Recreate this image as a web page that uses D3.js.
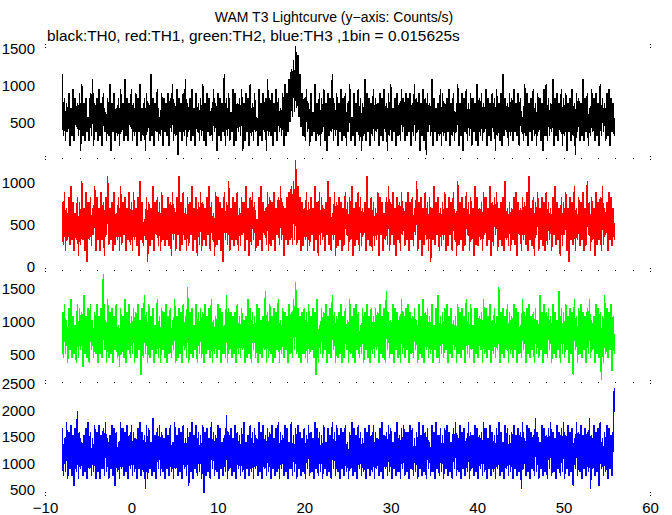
<!DOCTYPE html>
<html><head><meta charset="utf-8">
<script src="https://cdn.jsdelivr.net/npm/d3@7"></script>
<style>html,body{margin:0;padding:0;background:#fff;} svg{display:block;font-family:"Liberation Sans",Arial,Helvetica,sans-serif;}</style>
</head><body><svg id="c" width="672" height="515"></svg>
<script>
const title = "WAM T3 Lightcurve (y\u2212axis: Counts/s)";
const subtitle = "black:TH0, red:TH1, green:TH2, blue:TH3 ,1bin = 0.015625s";
const binWidth = 0.015625;          // s per bin
const sampleStart = -8, sampleStep = 0.125; // time of first sampled bin, spacing of samples (s)

const th0Counts = [
18,5,13,4,12,6,14,3,11,5,15,4,13,7,12,5,14,2,16,5,12,4,13,6,9,4,14,5,17,3,12,6,
13,4,15,5,12,3,14,6,10,4,13,5,16,2,12,6,14,4,11,5,13,3,15,6,12,4,17,5,13,4,12,7,
15,4,12,5,14,3,13,6,16,4,11,5,13,2,14,6,12,4,18,5,13,3,12,6,15,4,9,5,14,3,13,6,
12,5,14,3,13,6,16,4,12,5,15,1,13,6,12,4,14,5,17,3,12,6,13,4,15,5,11,3,14,6,12,4,
13,5,16,4,12,3,14,6,13,5,11,4,15,6,12,2,14,5,13,4,12,6,18,3,13,5,14,4,10,6,15,3,
14,4,12,6,13,5,15,2,12,4,14,6,13,3,16,5,12,4,14,6,9,3,15,5,12,4,14,6,13,2,17,5,
13,5,14,3,12,6,15,4,13,6,11,5,14,3,16,5,14,6,17,8,19,9,21,10,24,11,22,9,18,7,14,5,
13,4,15,6,12,3,14,5,10,6,16,4,12,5,14,3,13,6,15,4,12,2,14,5,13,6,18,4,12,5,14,3,
12,6,15,4,13,5,14,3,12,6,16,4,9,5,14,3,12,6,15,4,13,2,12,5,17,4,14,6,13,3,12,5,
15,4,13,6,12,3,14,5,13,4,15,6,12,2,14,5,16,4,11,6,13,3,14,5,12,4,15,6,13,4,14,5,
13,6,14,3,12,5,16,4,13,6,14,2,12,5,15,4,13,1,14,6,12,5,17,3,13,6,11,4,12,5,15,3,
14,5,12,4,13,6,15,3,12,5,14,4,10,6,16,3,12,5,14,2,13,6,15,4,12,5,14,3,13,6,12,4,
16,3,13,5,14,4,12,6,15,3,13,5,12,4,14,6,13,2,15,5,12,4,14,3,18,5,13,6,12,3,14,5,
13,4,15,6,12,5,14,3,13,6,9,4,16,5,14,3,12,6,13,4,15,5,12,3,14,6,13,4,12,2,15,5,
16,4,13,5,12,6,17,3,13,5,14,4,12,6,15,3,13,5,14,2,12,6,13,4,15,5,12,1,14,6,13,4,
12,5,17,4,13,6,14,3,11,5,15,6,13,4,14,5,12,3,16,5,13,6,12,4,14,5,15,3,13,6,12,5
];
const th1Counts = [
12,4,14,3,11,5,13,4,15,5,12,3,10,5,13,2,12,4,16,5,11,3,14,1,12,5,13,4,11,6,15,3,
13,5,11,3,14,5,12,2,13,6,17,4,11,5,12,3,14,4,10,5,13,3,15,4,12,6,13,3,11,5,14,4,
12,3,14,5,11,4,13,2,16,5,12,4,9,5,13,1,12,4,11,5,15,3,12,6,13,4,12,3,14,5,11,4,
11,5,13,4,12,2,14,5,11,3,13,6,17,3,12,4,14,5,11,3,13,4,12,6,15,3,11,5,13,2,12,4,
14,3,12,5,11,4,13,6,15,3,12,5,10,2,14,4,13,5,12,3,11,1,14,5,12,4,16,3,11,5,13,4,
12,5,14,3,11,4,13,6,12,3,15,5,11,2,13,4,14,5,12,3,9,4,13,5,15,3,12,6,11,4,14,3,
13,4,12,5,14,3,11,6,13,4,15,5,12,2,11,5,13,4,14,5,15,4,16,5,20,4,15,5,13,3,12,4,
11,5,14,3,12,4,13,6,11,3,15,5,12,2,14,4,13,5,11,3,12,6,16,4,13,3,10,5,14,2,12,4,
13,5,12,3,11,4,14,6,12,3,13,5,15,2,11,4,12,5,14,3,13,4,11,6,12,3,17,5,11,4,13,3,
12,4,11,5,14,2,13,6,12,3,10,5,13,4,15,3,12,6,14,4,11,2,13,5,12,3,14,6,11,4,12,5,
14,3,12,5,13,4,11,6,16,3,12,5,13,2,11,4,14,5,12,3,13,1,11,5,15,4,12,6,13,3,11,4,
12,5,14,3,11,4,13,6,12,3,14,5,10,2,16,4,12,5,13,3,11,4,14,6,12,3,13,5,11,2,15,4,
13,4,11,5,12,3,14,6,13,4,11,5,15,2,12,4,13,6,14,3,11,5,12,4,13,3,16,5,11,4,12,3,
11,5,13,4,14,2,12,6,11,3,13,5,12,4,14,3,17,5,11,4,13,2,12,6,14,3,11,5,13,4,12,3,
14,4,12,5,11,3,13,6,15,4,12,5,11,2,13,4,12,6,14,3,11,1,13,5,12,4,15,3,11,5,13,4,
12,5,14,3,11,4,16,6,12,3,13,5,11,2,14,4,12,5,13,3,15,4,11,6,12,3,14,5,13,4,11,5
];
const th2Counts = [
18,7,20,8,16,6,19,9,21,7,17,8,15,6,20,7,19,9,18,5,22,8,17,7,19,6,20,9,16,7,18,8,
20,6,17,8,19,7,27,9,16,6,21,7,18,8,19,6,17,9,20,7,15,5,19,8,17,7,21,6,18,9,20,7,
17,8,19,6,18,7,20,9,16,3,19,7,22,8,18,6,20,7,17,9,19,6,15,8,21,7,17,6,19,9,18,7,
20,6,17,8,19,7,16,9,21,6,17,7,19,8,18,6,20,9,17,7,24,6,18,8,19,7,15,9,20,6,18,8,
19,7,18,6,20,8,17,9,19,7,21,6,16,8,17,7,20,9,19,6,18,8,15,7,22,6,19,9,18,7,17,8,
18,6,20,8,17,7,19,9,16,6,17,7,21,8,19,6,18,9,17,7,20,6,19,8,16,7,17,9,23,6,18,7,
20,8,17,6,19,7,18,9,21,6,16,8,19,7,18,9,17,6,20,8,18,7,21,9,25,8,19,7,17,6,18,8,
19,7,18,6,20,8,17,9,19,7,18,3,21,6,15,8,19,7,18,9,20,6,17,8,19,7,22,9,18,6,17,7,
18,8,20,6,17,7,19,9,16,6,21,8,17,7,19,6,20,9,18,7,15,8,19,6,18,9,20,7,17,6,19,8,
17,7,19,9,18,6,20,8,17,7,19,6,23,9,18,7,16,8,20,6,19,9,18,7,17,6,21,8,18,7,19,9,
20,6,18,8,17,7,19,9,16,6,20,8,17,7,21,6,18,9,19,7,17,8,20,6,15,9,19,7,22,6,17,8,
18,7,19,9,20,6,17,8,19,7,16,9,17,6,20,8,18,7,19,9,17,6,21,8,18,7,20,9,15,6,19,8,
19,7,17,9,18,6,21,8,19,7,17,9,20,6,16,8,19,7,17,9,24,6,18,8,19,7,17,9,20,6,18,8,
17,7,20,9,19,6,18,8,15,7,21,9,18,6,19,8,20,7,17,9,18,6,19,8,16,7,22,9,18,6,20,8,
18,7,19,9,17,6,20,8,18,7,16,9,23,6,19,8,18,7,20,9,17,6,19,8,18,3,21,9,17,6,19,8,
20,7,18,9,17,6,19,8,21,7,16,9,17,6,20,8,19,7,18,2,17,6,22,8,19,7,18,9,20,4,17,8
];
const th3Counts = [
26,12,23,13,28,11,25,14,27,12,24,9,26,13,31,11,25,14,22,12,24,13,26,11,28,14,25,12,23,13,27,11,
25,13,27,11,24,14,26,12,28,13,23,11,24,14,27,12,26,9,25,13,22,11,28,14,26,12,25,13,27,11,24,14,
27,12,25,13,23,11,26,14,28,12,25,13,24,8,27,11,26,14,22,12,29,13,24,11,26,14,27,12,25,13,23,11,
26,14,24,12,27,13,22,11,28,14,24,12,26,13,25,11,27,14,23,12,26,9,25,13,28,11,24,14,27,12,25,13,
24,11,27,7,25,12,26,13,23,11,28,14,25,12,24,13,27,11,26,14,22,12,24,13,30,11,25,14,26,12,23,13,
27,11,25,14,24,12,26,13,28,11,22,14,24,12,27,13,25,11,26,14,23,12,28,13,25,11,27,14,24,12,26,13,
25,11,27,14,23,12,26,13,28,11,25,14,24,12,27,13,26,11,22,14,28,12,24,13,26,11,27,14,25,12,23,13,
26,11,24,14,27,12,25,13,23,11,28,14,26,12,25,13,24,11,27,14,22,12,26,13,24,11,28,14,25,12,27,13,
24,11,26,14,25,12,27,13,22,11,25,14,28,12,26,13,24,11,27,14,25,12,23,13,26,11,25,14,27,12,24,13,
27,11,25,14,23,12,26,13,28,11,24,14,25,12,27,13,26,11,22,14,25,12,28,13,24,11,26,14,27,12,25,13,
25,11,27,14,26,12,23,13,25,11,28,14,24,12,27,13,25,11,26,14,22,12,27,13,25,11,28,14,24,12,26,13,
24,11,26,14,27,12,25,13,22,11,26,14,28,12,24,13,27,11,25,14,26,12,23,13,28,11,25,14,24,12,27,13,
26,11,24,14,25,12,28,13,26,11,23,14,27,12,25,13,24,11,26,14,28,12,25,13,22,11,27,14,26,12,24,13,
25,11,27,14,24,12,26,13,25,8,28,14,23,12,27,13,26,11,25,14,24,12,29,13,25,11,22,14,27,12,26,13,
24,11,26,14,28,12,25,13,23,11,27,14,25,12,26,13,28,11,24,14,27,12,25,13,26,9,23,14,28,12,25,13,
27,11,24,14,26,12,25,13,29,8,24,14,27,12,25,13,26,9,28,14,23,12,25,13,27,11,26,14,24,12,25,38
];

const seriesCounts = [th0Counts, th1Counts, th2Counts, th3Counts];
const seriesColors = ["#000000", "#ff0000", "#00ff00", "#0000ff"];
const yDomains = [[30, 1530], [-36, 1298], [91, 1788], [425, 2538]];
const yTickValues = [[500, 1000, 1500], [0, 500, 1000], [500, 1000, 1500], [500, 1000, 1500, 2000, 2500]];
const xDomain = [-10, 60];
const xTickValues = [-10, 0, 10, 20, 30, 40, 50, 60];
const xMinorStep = 2;

(function draw() {
  const plotLeft = 45, plotRight = 650, plotTop = 46, panelH = 112;
  const svg = d3.select("#c");
  const x = d3.scaleLinear().domain(xDomain).range([plotLeft, plotRight]);

  svg.append("text").attr("x", 334).attr("y", 22).attr("text-anchor", "middle")
    .attr("font-size", 14).attr("fill", "#000").text(title);
  svg.append("text").attr("x", 47).attr("y", 41).attr("font-size", 15.4).attr("fill", "#000").text(subtitle);

  const fmt = d => (d < 0 ? "\u2212" + (-d) : String(d));

  seriesCounts.forEach((arr, k) => {
    const y0 = plotTop + k * panelH, y1 = y0 + panelH;
    const y = d3.scaleLinear().domain(yDomains[k]).range([y1, y0]);
    const data = arr.map((c, i) => ({ t: sampleStart + i * sampleStep, rate: c / binWidth }));
    const line = d3.line().x(d => x(d.t)).y(d => y(d.rate));
    svg.append("path").datum(data).attr("d", line)
      .attr("fill", "none").attr("stroke", seriesColors[k]).attr("stroke-width", 1.5)
      .attr("shape-rendering", "crispEdges");

    const ax = svg.append("g").attr("transform", `translate(${plotLeft},0)`)
      .call(d3.axisLeft(y).tickValues(yTickValues[k]).tickSize(0).tickPadding(10).tickFormat(fmt));
    ax.select(".domain").remove();
    ax.selectAll("text").attr("font-size", 15).attr("font-family", null).attr("fill", "#000");
  });

  // tiny tick dots along panel boundaries
  const boundaries = d3.range(5).map(k => plotTop + k * panelH);
  const dotG = svg.append("g").attr("fill", "#000").attr("shape-rendering", "crispEdges");
  boundaries.forEach((yb, bi) => {
    const interior = bi > 0 && bi < 4;
    if (interior) {
      d3.range(xDomain[0] + xMinorStep, xDomain[1], xMinorStep).forEach(t => {
        dotG.append("rect").attr("x", Math.round(x(t))).attr("y", yb).attr("width", 1).attr("height", 1);
      });
    }
    [xDomain[0], xDomain[1]].forEach(t => {
      dotG.append("rect").attr("x", Math.round(x(t))).attr("y", yb - 2).attr("width", 1).attr("height", 1);
      dotG.append("rect").attr("x", Math.round(x(t))).attr("y", yb + 1).attr("width", 1).attr("height", 1);
    });
  });

  const xa = svg.append("g").attr("transform", `translate(0,${plotTop + 4 * panelH})`)
    .call(d3.axisBottom(x).tickValues(xTickValues).tickSize(0).tickPadding(8).tickFormat(fmt));
  xa.select(".domain").remove();
  xa.selectAll("text").attr("font-size", 15).attr("font-family", null).attr("fill", "#000");
})();
</script></body></html>
